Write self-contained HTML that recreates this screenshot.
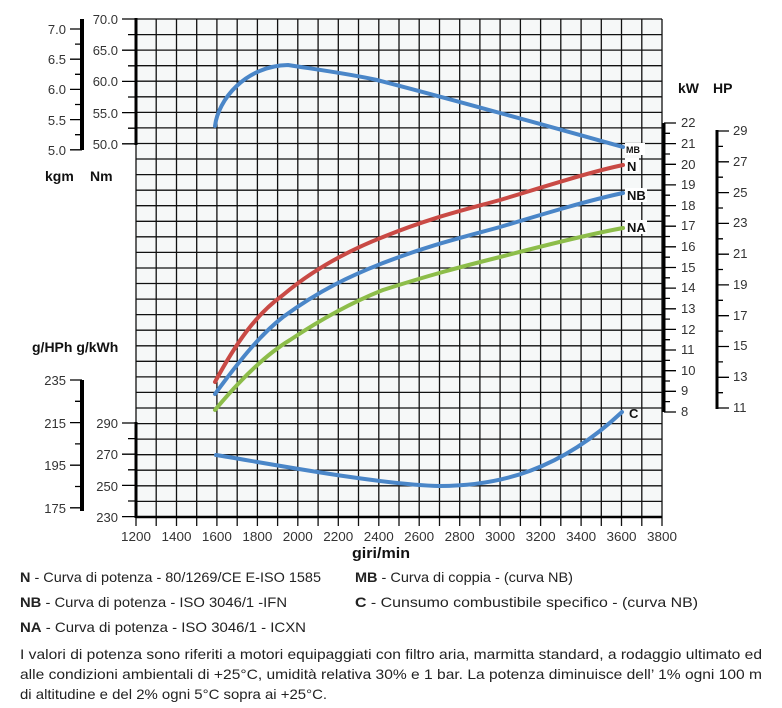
<!DOCTYPE html>
<html><head><meta charset="utf-8"><style>
html,body{margin:0;padding:0;background:#fff;}
svg{display:block;font-family:"Liberation Sans",sans-serif;}
</style></head><body>
<svg width="782" height="708" viewBox="0 0 782 708" xmlns="http://www.w3.org/2000/svg">
<rect x="136" y="19" width="526" height="498" fill="#f6f8f8"/>
<path stroke="#111" stroke-width="1.3" fill="none" d="
M136,19V526 M156.2,19V526 M176.5,19V526 M196.7,19V526 M216.9,19V526 M237.2,19V526 M257.4,19V526 M277.6,19V526 M297.8,19V526 M318.1,19V526 M338.3,19V526 M358.5,19V526 M378.8,19V526 M399,19V526 M419.2,19V526 M439.5,19V526 M459.7,19V526 M479.9,19V526 M500.1,19V526 M520.4,19V526 M540.6,19V526 M560.8,19V526 M581.1,19V526 M601.3,19V526 M621.5,19V526 M641.8,19V526 M662,19V526
M136,19H662 M136,34.6H662 M136,50.1H662 M136,65.7H662 M136,81.2H662 M136,96.8H662 M136,112.4H662 M136,127.9H662 M136,143.5H662 M136,159H662 M136,174.6H662 M136,190.2H662 M136,205.7H662 M136,221.3H662 M136,236.8H662 M136,252.4H662 M136,268H662 M136,283.5H662 M136,299.1H662 M136,314.6H662 M136,330.2H662 M136,345.8H662 M136,361.3H662 M136,376.9H662 M136,392.4H662 M136,408H662 M136,423.6H662 M136,439.1H662 M136,454.7H662 M136,470.2H662 M136,485.8H662 M136,501.4H662"/>
<g stroke="#000">
<line x1="82" y1="19" x2="82" y2="150" stroke-width="4"/>
<line x1="136" y1="18" x2="136" y2="145" stroke-width="3"/>
<line x1="82" y1="380" x2="82" y2="511" stroke-width="4"/>
<line x1="136" y1="422" x2="136" y2="518" stroke-width="3"/>
<line x1="136" y1="517" x2="662" y2="517" stroke-width="2.5"/>
<line x1="664" y1="123" x2="664" y2="412" stroke-width="3"/>
<line x1="717" y1="130" x2="717" y2="409" stroke-width="3"/>
</g>
<path stroke="#000" stroke-width="1.3" fill="none" d="
M70,29H82 M75,44.1H82 M70,59.2H82 M75,74.3H82 M70,89.4H82 M75,104.5H82 M70,119.6H82 M75,134.7H82 M70,149.8H82
M122,19H136 M128,34.6H136 M122,50.2H136 M128,65.8H136 M122,81.4H136 M128,97H136 M122,112.6H136 M128,128.2H136 M122,143.8H136
M70,380H82 M75,401.3H82 M70,422.6H82 M75,443.9H82 M70,465.2H82 M75,486.5H82 M70,507.8H82
M122,423H136 M128,438.6H136 M122,454.2H136 M128,469.8H136 M122,485.4H136 M128,501H136 M122,516.6H136
M664,123H676 M664,133.3H670 M664,143.6H676 M664,154H670 M664,164.3H676 M664,174.6H670 M664,184.9H676 M664,195.2H670 M664,205.6H676 M664,215.9H670 M664,226.2H676 M664,236.5H670 M664,246.8H676 M664,257.2H670 M664,267.5H676 M664,277.8H670 M664,288.1H676 M664,298.4H670 M664,308.8H676 M664,319.1H670 M664,329.4H676 M664,339.7H670 M664,350H676 M664,360.4H670 M664,370.7H676 M664,381H670 M664,391.3H676 M664,401.6H670 M664,412H676
M717,131H729 M717,146.4H723 M717,161.8H729 M717,177.2H723 M717,192.6H729 M717,208H723 M717,223.4H729 M717,238.8H723 M717,254.2H729 M717,269.5H723 M717,284.9H729 M717,300.3H723 M717,315.7H729 M717,331.1H723 M717,346.5H729 M717,361.9H723 M717,377.3H729 M717,392.7H723 M717,408H729"/>
<g font-size="13" fill="#333" text-anchor="end">
<text x="66" y="34">7.0</text><text x="66" y="64">6.5</text><text x="66" y="94">6.0</text><text x="66" y="125">5.5</text><text x="66" y="155">5.0</text>
<text x="118" y="24">70.0</text><text x="118" y="55">65.0</text><text x="118" y="86">60.0</text><text x="118" y="118">55.0</text><text x="118" y="149">50.0</text>
<text x="66" y="385">235</text><text x="66" y="428">215</text><text x="66" y="470">195</text><text x="66" y="513">175</text>
<text x="118" y="428">290</text><text x="118" y="459">270</text><text x="118" y="491">250</text><text x="118" y="522">230</text>
</g>
<g font-size="13" fill="#333">
<text x="681" y="127">22</text><text x="681" y="148">21</text><text x="681" y="169">20</text><text x="681" y="189">19</text><text x="681" y="210">18</text><text x="681" y="230">17</text><text x="681" y="251">16</text><text x="681" y="272">15</text><text x="681" y="292">14</text><text x="681" y="313">13</text><text x="681" y="334">12</text><text x="681" y="354">11</text><text x="681" y="375">10</text><text x="681" y="395">9</text><text x="681" y="416">8</text>
<text x="733" y="135">29</text><text x="733" y="166">27</text><text x="733" y="197">25</text><text x="733" y="227">23</text><text x="733" y="258">21</text><text x="733" y="289">19</text><text x="733" y="320">17</text><text x="733" y="350">15</text><text x="733" y="381">13</text><text x="733" y="412">11</text>
</g>
<g font-size="13" fill="#333" text-anchor="middle">
<text x="136" y="541" textLength="30" lengthAdjust="spacingAndGlyphs">1200</text>
<text x="176.5" y="541" textLength="30" lengthAdjust="spacingAndGlyphs">1400</text>
<text x="216.9" y="541" textLength="30" lengthAdjust="spacingAndGlyphs">1600</text>
<text x="257.4" y="541" textLength="30" lengthAdjust="spacingAndGlyphs">1800</text>
<text x="297.8" y="541" textLength="30" lengthAdjust="spacingAndGlyphs">2000</text>
<text x="338.3" y="541" textLength="30" lengthAdjust="spacingAndGlyphs">2200</text>
<text x="378.8" y="541" textLength="30" lengthAdjust="spacingAndGlyphs">2400</text>
<text x="419.2" y="541" textLength="30" lengthAdjust="spacingAndGlyphs">2600</text>
<text x="459.7" y="541" textLength="30" lengthAdjust="spacingAndGlyphs">2800</text>
<text x="500.1" y="541" textLength="30" lengthAdjust="spacingAndGlyphs">3000</text>
<text x="540.6" y="541" textLength="30" lengthAdjust="spacingAndGlyphs">3200</text>
<text x="581.1" y="541" textLength="30" lengthAdjust="spacingAndGlyphs">3400</text>
<text x="621.5" y="541" textLength="30" lengthAdjust="spacingAndGlyphs">3600</text>
<text x="662" y="541" textLength="30" lengthAdjust="spacingAndGlyphs">3800</text>
</g>
<g font-size="14" font-weight="bold" fill="#111">
<text x="45" y="181">kgm</text><text x="90" y="181">Nm</text>
<text x="32" y="352">g/HPh g/kWh</text>
<text x="678" y="93">kW</text><text x="713" y="93">HP</text>
<text x="352" y="558" font-size="15" textLength="58" lengthAdjust="spacingAndGlyphs">giri/min</text>
</g>
<g fill="none" stroke-width="4" stroke-linecap="round">
<path d="M215,126 C218,100 245,66 288,65 C320,70 350,74 377,80 C420,91 460,102 500,113 C545,125 590,138 623,147" stroke="#4a86c8"/>
<path d="M215,382 C235,345 255,315 283,295 C315,268 350,250 383,237 C430,218 460,211 500,200 C550,185 590,172 623,165" stroke="#c94a45"/>
<path d="M215,394 C240,360 260,335 283,317 C320,290 350,276 383,263 C430,245 460,238 500,227 C550,212 590,200 623,193" stroke="#4a86c8"/>
<path d="M215,410 C240,380 265,355 290,340 C320,320 350,303 383,290 C430,275 460,267 500,257 C550,244 590,234 623,228" stroke="#8dbd4a"/>
<path d="M216,455 C260,462 380,485 440,486 C500,486 560,470 622,412" stroke="#4a86c8"/>
</g>
<g font-weight="bold" fill="#111">
<rect x="625" y="143" width="20" height="12" fill="#fff"/>
<text x="626" y="153" font-size="9">MB</text>
<rect x="625" y="158" width="14" height="14" fill="#fff"/>
<text x="627" y="171" font-size="13">N</text>
<rect x="625" y="188" width="22" height="14" fill="#fff"/>
<text x="627" y="200" font-size="13">NB</text>
<rect x="625" y="220" width="22" height="14" fill="#fff"/>
<text x="627" y="232" font-size="13">NA</text>
<text x="629" y="418" font-size="13">C</text>
</g>
<g font-size="14" fill="#222">
<text x="20" y="582" textLength="301" lengthAdjust="spacingAndGlyphs"><tspan font-weight="bold">N</tspan>    - Curva di potenza - 80/1269/CE E-ISO 1585</text>
<text x="20" y="607" textLength="267" lengthAdjust="spacingAndGlyphs"><tspan font-weight="bold">NB</tspan> - Curva di potenza - ISO 3046/1 -IFN</text>
<text x="20" y="632" textLength="286" lengthAdjust="spacingAndGlyphs"><tspan font-weight="bold">NA</tspan>  - Curva di potenza - ISO 3046/1 - ICXN</text>
<text x="355" y="582" textLength="218" lengthAdjust="spacingAndGlyphs"><tspan font-weight="bold">MB</tspan> - Curva di coppia - (curva NB)</text>
<text x="355" y="607" textLength="343" lengthAdjust="spacingAndGlyphs"><tspan font-weight="bold">C</tspan>     - Cunsumo combustibile specifico - (curva NB)</text>
<text x="20" y="659" textLength="742" lengthAdjust="spacingAndGlyphs">I valori di potenza sono riferiti a motori equipaggiati con filtro aria, marmitta standard, a rodaggio ultimato ed</text>
<text x="20" y="679" textLength="742" lengthAdjust="spacingAndGlyphs">alle condizioni ambientali di +25°C, umidità relativa 30% e 1 bar. La potenza diminuisce dell’ 1% ogni 100 m</text>
<text x="20" y="699" textLength="307" lengthAdjust="spacingAndGlyphs">di altitudine e del 2% ogni 5°C sopra ai +25°C.</text>
</g>
</svg>
</body></html>
